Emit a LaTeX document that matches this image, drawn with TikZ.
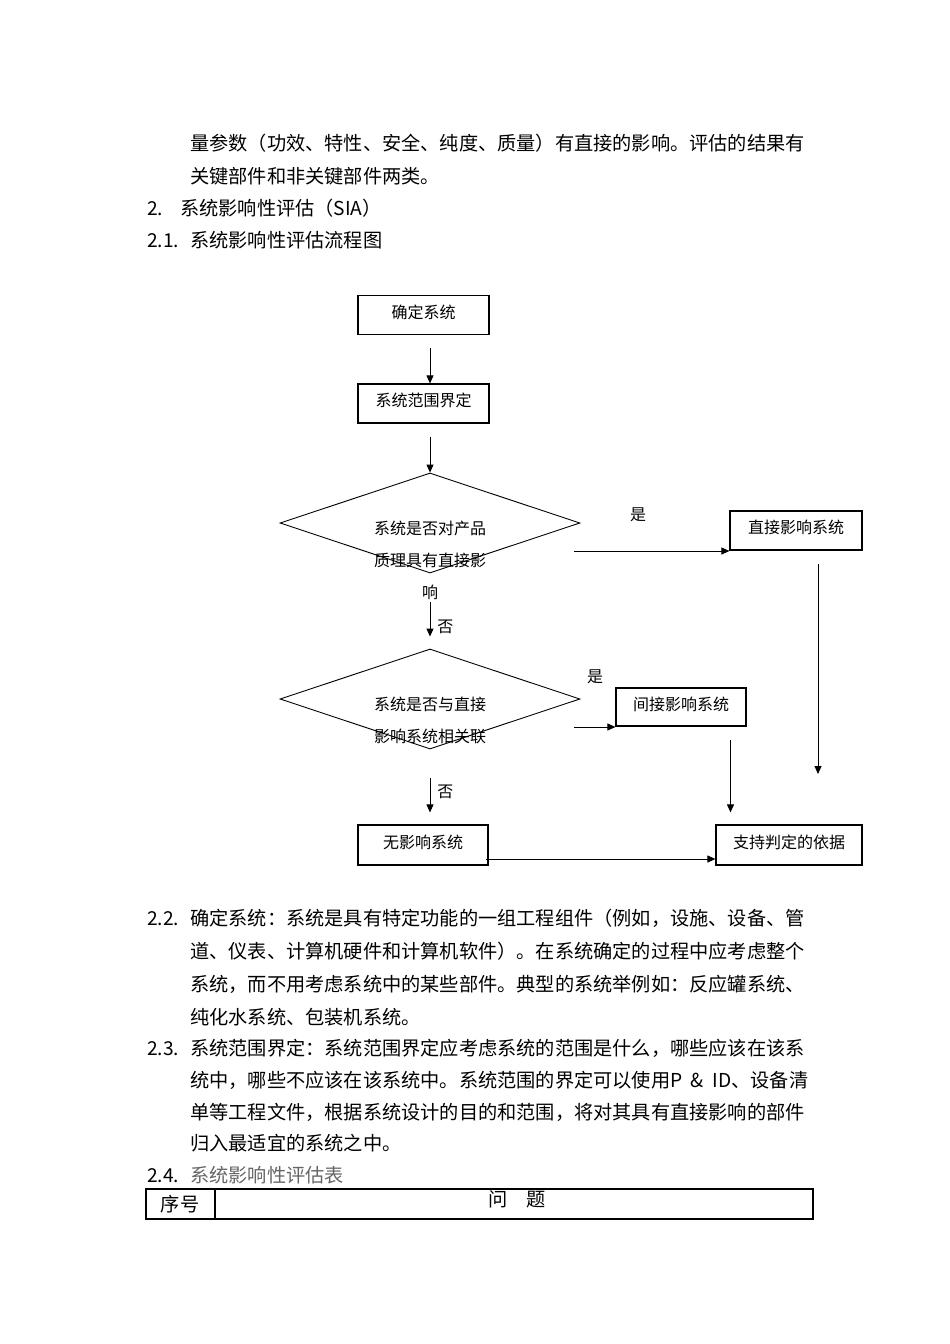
\documentclass[tikz,border=0pt]{standalone}
\usepackage{fontspec}
\setmainfont{Noto Sans CJK SC}
\usepackage{tikz}
\usetikzlibrary{positioning,arrows.meta,shapes.geometric}

\newcommand{\bodysize}{\fontsize{19.2}{32}\selectfont}
\newcommand{\chartsize}{\fontsize{16}{32}\selectfont}

\tikzset{
  textline/.style={anchor=west,inner sep=0pt,font=\bodysize,text height=17pt,text depth=2.5pt},
  sysbox/.style={draw,line width=1.2pt,minimum width=131pt,minimum height=39pt,inner sep=0pt,font=\chartsize,text height=12pt,text depth=5.8pt},
  decision/.style={draw,diamond,line width=0.9pt,minimum width=300pt,minimum height=100pt,inner sep=0pt},
  question/.style={align=center,font=\chartsize,inner sep=0pt},
  chartlabel/.style={font=\chartsize,inner sep=0pt},
  arr/.style={-{Triangle[length=8pt,width=7pt]},line width=0.9pt},
}

\begin{document}
\begin{tikzpicture}[x=1pt,y=-1pt]
  \fill[white] (0,0) rectangle (950,1344);
  \useasboundingbox (0,0) rectangle (950,1344);

  % text above the chart
  \node[textline] (l1) at (190,143) {量参数（功效、特性、安全、纯度、质量）有直接的影响。评估的结果有};
  \node[textline] (l2) at (190,176) {关键部件和非关键部件两类。};
  \node[textline] (n2) at (147,208) {2.}; \node[textline] (h2) at (180,208) {系统影响性评估（SIA）};
  \node[textline] (n21) at (147,240) {2.1.}; \node[textline] (h21) at (190,240) {系统影响性评估流程图};

  % flow chart
  \node[sysbox] (b1) at (423.5,315) {确定系统};
  \node[sysbox] (b2) at (423.5,403.5) {系统范围界定};
  \node[decision] (d1) at (430,523) {};
  \node[question] (q1) at (430,560) {系统是否对产品\\质理具有直接影\\响};
  \node[sysbox,minimum width=132pt] (dir) at (796,530.5) {直接影响系统};
  \node[decision] (d2) at (430,699) {};
  \node[question] (q2) at (430,720.5) {系统是否与直接\\影响系统相关联};
  \node[sysbox,minimum width=130pt,minimum height=38pt] (ind) at (681,707) {间接影响系统};
  \node[sysbox,minimum width=130pt,minimum height=40pt] (none) at (423,845) {无影响系统};
  \node[sysbox,minimum width=146pt,minimum height=40pt] (sup) at (789,845) {支持判定的依据};
  \node[chartlabel] (yes1) at (638,515) {是};
  \node[chartlabel] (yes2) at (595,677) {是};

  \draw[arr,shorten <=13pt] (b1.south -| d1.north) -- (b2.north -| d1.north);
  \draw[arr,shorten <=13pt] (b2.south -| d1.north) -- (d1.north);
  \coordinate (y1) at (574,551);
  \draw[arr] (y1) -- (y1 -| dir.west);
  \coordinate (dirend) at (818,774);
  \draw[arr,shorten <=13pt] (dir.south -| dirend) -- (dirend);
  \draw[arr,shorten <=29pt,shorten >=12pt] (d1.south) -- node[chartlabel,right=7pt,pos=0.71]{否} (d2.north);
  \coordinate (y2) at (574,727);
  \draw[arr] (y2) -- (y2 -| ind.west);
  \draw[arr,shorten <=13pt,shorten >=12pt] ([xshift=49.5pt]ind.south) -- ([xshift=49.5pt]ind.south |- sup.north);
  \draw[arr,shorten <=29pt,shorten >=12pt] (d2.south) -- node[chartlabel,right=7pt,pos=0.57]{否} (d2.south |- none.north);
  \draw[arr,shorten <=-3pt] ([yshift=-14pt]none.east) -- ([yshift=-14pt]sup.west);

  % text below the chart
  \node[textline] (n22) at (147,918) {2.2.};
  \node[textline] (p1) at (190,918) {确定系统：系统是具有特定功能的一组工程组件（例如，设施、设备、管};
  \node[textline] (p2) at (190,951) {道、仪表、计算机硬件和计算机软件）。在系统确定的过程中应考虑整个};
  \node[textline] (p3) at (190,984) {系统，而不用考虑系统中的某些部件。典型的系统举例如：反应罐系统、};
  \node[textline] (p4) at (190,1017) {纯化水系统、包装机系统。};
  \node[textline] (n23) at (147,1048) {2.3.};
  \node[textline] (p5) at (190,1048) {系统范围界定：系统范围界定应考虑系统的范围是什么，哪些应该在该系};
  \node[textline] (p6) at (190,1080) {统中，哪些不应该在该系统中。系统范围的界定可以使用P\hspace{0.45em}\&\hspace{0.45em}ID、设备清};
  \node[textline] (p7) at (190,1112) {单等工程文件，根据系统设计的目的和范围，将对其具有直接影响的部件};
  \node[textline] (p8) at (190,1143) {归入最适宜的系统之中。};
  \node[textline] (n24) at (147,1175) {2.4.};
  \node[textline,text=black!60] (p9) at (190,1175) {系统影响性评估表};

  % table head
  \draw[line width=1.2pt] (146,1189) rectangle (813,1219);
  \draw[line width=1.2pt] (215,1189) -- (215,1219);
  \node[font=\bodysize,inner sep=0pt] (col1) at (180,1204) {序号};
  \node[font=\bodysize,inner sep=0pt] (col2) at (517,1199) {问\hspace{1em}题};
\end{tikzpicture}
\end{document}
